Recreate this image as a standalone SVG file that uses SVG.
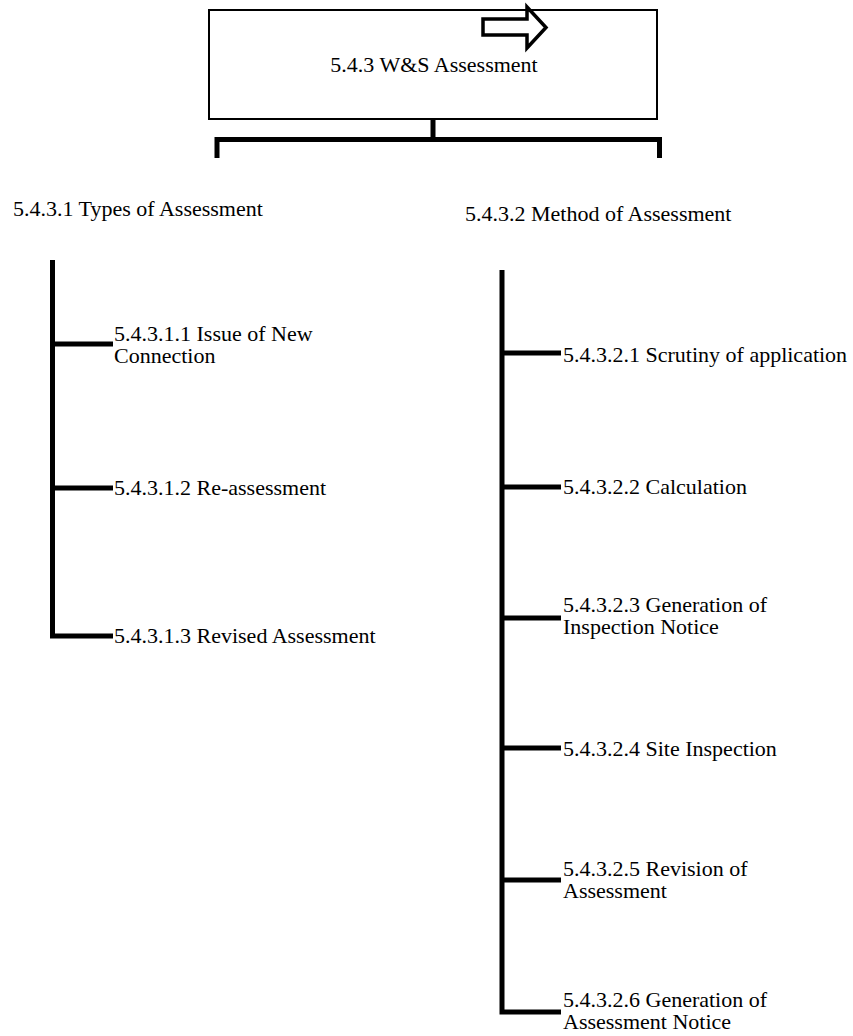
<svg xmlns="http://www.w3.org/2000/svg" width="853" height="1036" viewBox="0 0 853 1036">
<style>
text { font-family: "Liberation Serif", "Times New Roman", serif; font-size: 22px; fill: #000; }
.box { fill: #fff; stroke: #000; stroke-width: 2; }
.conn { fill: none; stroke: #000; stroke-width: 5; stroke-linejoin: miter; stroke-linecap: butt; }
.arrow { fill: #fff; stroke: #000; stroke-width: 3.5; stroke-linejoin: miter; }
</style>
<rect width="853" height="1036" fill="#fff"/>
<g id="connectors">
  <line class="conn" x1="433" y1="119" x2="433" y2="140"/>
  <path class="conn" d="M217,158 L217,139.5 L659.5,139.5 L659.5,158"/>
  <path class="conn" d="M52.5,260 L52.5,636 L113,636"/>
  <line class="conn" x1="52.5" y1="344" x2="113" y2="344"/>
  <line class="conn" x1="52.5" y1="488" x2="113" y2="488"/>
  <path class="conn" d="M502,270 L502,1012 L561,1012"/>
  <line class="conn" x1="502" y1="353" x2="561" y2="353"/>
  <line class="conn" x1="502" y1="487" x2="561" y2="487"/>
  <line class="conn" x1="502" y1="618" x2="561" y2="618"/>
  <line class="conn" x1="502" y1="748" x2="561" y2="748"/>
  <line class="conn" x1="502" y1="880" x2="561" y2="880"/>
</g>
<g id="root">
  <rect class="box" x="209" y="10" width="448" height="109"/>
  <path class="arrow" d="M483,19 L527,19 L527,7 L546,27.5 L527,48 L527,35 L483,35 Z"/>
  <text x="434" y="72" text-anchor="middle">5.4.3 W&amp;S Assessment</text>
</g>
<g id="types">
  <text x="13" y="216">5.4.3.1 Types of Assessment</text>
</g>
<g id="method">
  <text x="465" y="221">5.4.3.2 Method of Assessment</text>
</g>
<g id="t1">
  <text x="114" y="341">5.4.3.1.1 Issue of New<tspan x="114" dy="22">Connection</tspan></text>
</g>
<g id="t2">
  <text x="114" y="495">5.4.3.1.2 Re-assessment</text>
</g>
<g id="t3">
  <text x="114" y="643">5.4.3.1.3 Revised Assessment</text>
</g>
<g id="m1">
  <text x="563" y="362">5.4.3.2.1 Scrutiny of application</text>
</g>
<g id="m2">
  <text x="563" y="494">5.4.3.2.2 Calculation</text>
</g>
<g id="m3">
  <text x="563" y="612">5.4.3.2.3 Generation of<tspan x="563" dy="22">Inspection Notice</tspan></text>
</g>
<g id="m4">
  <text x="563" y="756">5.4.3.2.4 Site Inspection</text>
</g>
<g id="m5">
  <text x="563" y="876">5.4.3.2.5 Revision of<tspan x="563" dy="22">Assessment</tspan></text>
</g>
<g id="m6">
  <text x="563" y="1007">5.4.3.2.6 Generation of<tspan x="563" dy="22">Assessment Notice</tspan></text>
</g>
</svg>
